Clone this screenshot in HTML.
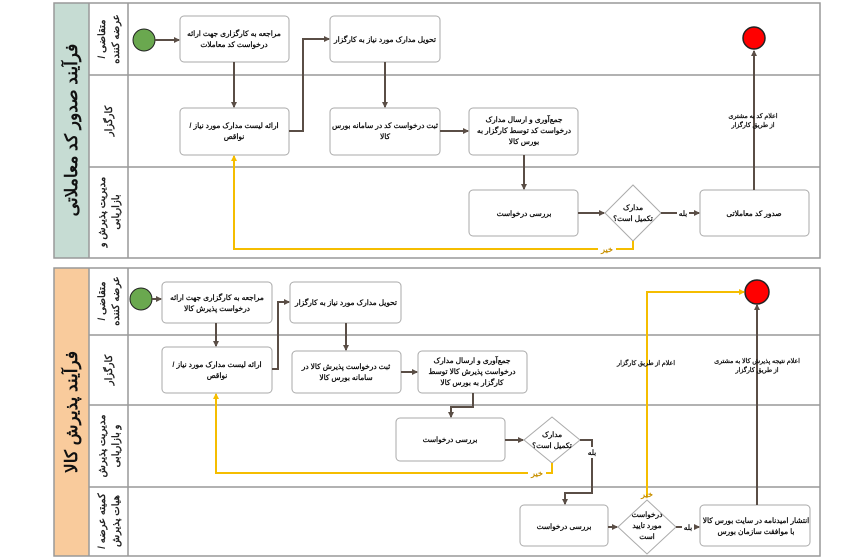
<!DOCTYPE html>
<html><head><meta charset="utf-8"><style>
html,body{margin:0;padding:0;background:#fff;}
svg{display:block;font-family:"Liberation Sans","Noto Sans CJK SC",sans-serif;}
.b{fill:#fff;stroke:#aaa;stroke-width:1;}
.t{font-size:7.4px;font-weight:bold;fill:#111;text-anchor:middle;direction:rtl;}
.s{font-size:6.3px;font-weight:bold;fill:#111;text-anchor:middle;direction:rtl;}
.l{stroke:#5a4e46;stroke-width:2;fill:none;}
.y{stroke:#f5bd00;stroke-width:2;fill:none;}
.ln{stroke:#999;stroke-width:1.5;fill:none;}
.lt{font-size:10px;font-weight:bold;fill:#222;text-anchor:middle;direction:rtl;}
.tt{font-size:17px;font-weight:bold;fill:#111;text-anchor:middle;direction:rtl;}
.kh{font-size:8px;font-weight:bold;fill:#c89000;text-anchor:middle;}
</style></head><body>
<svg width="856" height="559" viewBox="0 0 856 559" xmlns="http://www.w3.org/2000/svg">
<defs>
<marker id="a" markerWidth="6" markerHeight="6" refX="5" refY="3" orient="auto" markerUnits="userSpaceOnUse"><path d="M0,0 L6,3 L0,6z" fill="#5a4e46"/></marker>
<marker id="ay" markerWidth="6" markerHeight="6" refX="5" refY="3" orient="auto" markerUnits="userSpaceOnUse"><path d="M0,0 L6,3 L0,6z" fill="#f5bd00"/></marker>
</defs>

<rect x="54" y="3" width="35" height="255" fill="#c6dcd3"/>
<rect x="54" y="3" width="766" height="255" class="ln"/>
<line x1="89" y1="3" x2="89" y2="258" class="ln"/>
<line x1="128" y1="3" x2="128" y2="258" class="ln"/>
<line x1="89" y1="75" x2="820" y2="75" class="ln"/>
<line x1="89" y1="167" x2="820" y2="167" class="ln"/>
<text class="tt" transform="translate(77,130) rotate(-90)">فرآیند صدور کد معاملاتی</text>
<text class="lt" transform="translate(105,39) rotate(-90)">متقاضی /</text>
<text class="lt" transform="translate(119,39) rotate(-90)">عرضه کننده</text>
<text class="lt" transform="translate(112,121) rotate(-90)">کارگزار</text>
<text class="lt" transform="translate(105,212) rotate(-90)">مدیریت پذیرش و</text>
<text class="lt" transform="translate(119,212) rotate(-90)">بازاریابی</text>

<circle cx="144" cy="40" r="11" fill="#6aa84f" stroke="#222" stroke-width="1"/>
<rect class="b" x="180" y="16" width="109" height="46" rx="4"/>
<text class="t" x="234" y="36">مراجعه به کارگزاری جهت ارائه</text>
<text class="t" x="234" y="47">درخواست کد معاملات</text>
<rect class="b" x="330" y="16" width="110" height="46" rx="4"/>
<text class="t" x="385" y="42">تحویل مدارک مورد نیاز به کارگزار</text>
<rect class="b" x="180" y="108" width="109" height="47" rx="4"/>
<text class="t" x="234" y="128">ارائه لیست مدارک مورد نیاز /</text>
<text class="t" x="234" y="139">نواقص</text>
<rect class="b" x="330" y="108" width="110" height="47" rx="4"/>
<text class="t" x="385" y="128">ثبت درخواست کد در سامانه بورس</text>
<text class="t" x="385" y="139">کالا</text>
<rect class="b" x="469" y="108" width="109" height="47" rx="4"/>
<text class="t" x="524" y="122">جمع‌آوری و ارسال مدارک</text>
<text class="t" x="524" y="133">درخواست کد توسط کارگزار به</text>
<text class="t" x="524" y="144">بورس کالا</text>
<rect class="b" x="469" y="190" width="109" height="46" rx="4"/>
<text class="t" x="524" y="216">بررسی درخواست</text>
<path d="M633,185 L661,213 L633,241 L605,213z" fill="#fff" stroke="#aaa"/>
<text class="t" x="633" y="210">مدارک</text>
<text class="t" x="633" y="221">تکمیل است؟</text>
<rect class="b" x="700" y="190" width="109" height="46" rx="4"/>
<text class="t" x="754" y="216">صدور کد معاملاتی</text>
<circle cx="754" cy="38" r="11" fill="#f00" stroke="#222" stroke-width="1.5"/>

<line class="l" x1="155" y1="40" x2="179" y2="40" marker-end="url(#a)"/>
<line class="l" x1="234" y1="62" x2="234" y2="107" marker-end="url(#a)"/>
<path class="l" d="M289,131 H303 V39 H329" marker-end="url(#a)"/>
<line class="l" x1="385" y1="62" x2="385" y2="107" marker-end="url(#a)"/>
<line class="l" x1="440" y1="131" x2="468" y2="131" marker-end="url(#a)"/>
<line class="l" x1="524" y1="155" x2="524" y2="189" marker-end="url(#a)"/>
<line class="l" x1="578" y1="213" x2="604" y2="213" marker-end="url(#a)"/>
<line class="l" x1="661" y1="213" x2="699" y2="213" marker-end="url(#a)"/>
<rect x="677" y="207" width="12" height="11" fill="#fff"/>
<text class="t" x="683" y="216">بله</text>
<line class="l" x1="754" y1="190" x2="754" y2="51" marker-end="url(#a)"/>
<text class="s" x="753" y="118">اعلام کد به مشتری</text>
<text class="s" x="753" y="127">از طریق کارگزار</text>
<path class="y" d="M633,241 V249 H234 V156" marker-end="url(#ay)"/>
<rect x="598" y="243" width="18" height="11" fill="#fff"/>
<text class="kh" x="607" y="252">خیر</text>

<rect x="54" y="268" width="35" height="288" fill="#f9cb9c"/>
<rect x="54" y="268" width="766" height="288" class="ln"/>
<line x1="89" y1="268" x2="89" y2="556" class="ln"/>
<line x1="128" y1="268" x2="128" y2="556" class="ln"/>
<line x1="89" y1="335" x2="820" y2="335" class="ln"/>
<line x1="89" y1="405" x2="820" y2="405" class="ln"/>
<line x1="89" y1="487" x2="820" y2="487" class="ln"/>
<text class="tt" transform="translate(77,412) rotate(-90)">فرآیند پذیرش کالا</text>
<text class="lt" transform="translate(105,301) rotate(-90)">متقاضی /</text>
<text class="lt" transform="translate(119,301) rotate(-90)">عرضه کننده</text>
<text class="lt" transform="translate(112,370) rotate(-90)">کارگزار</text>
<text class="lt" transform="translate(105,446) rotate(-90)">مدیریت پذیرش</text>
<text class="lt" transform="translate(119,446) rotate(-90)">و بازاریابی</text>
<text class="lt" transform="translate(105,521) rotate(-90)">کمیته عرضه /</text>
<text class="lt" transform="translate(119,521) rotate(-90)">هیات پذیرش</text>

<circle cx="141" cy="299" r="11" fill="#6aa84f" stroke="#222" stroke-width="1"/>
<rect class="b" x="162" y="282" width="110" height="41" rx="4"/>
<text class="t" x="217" y="300">مراجعه به کارگزاری جهت ارائه</text>
<text class="t" x="217" y="311">درخواست پذیرش کالا</text>
<rect class="b" x="290" y="282" width="111" height="41" rx="4"/>
<text class="t" x="346" y="305">تحویل مدارک مورد نیاز به کارگزار</text>
<rect class="b" x="162" y="347" width="110" height="46" rx="4"/>
<text class="t" x="217" y="367">ارائه لیست مدارک مورد نیاز /</text>
<text class="t" x="217" y="378">نواقص</text>
<rect class="b" x="292" y="351" width="109" height="42" rx="4"/>
<text class="t" x="346" y="369">ثبت درخواست پذیرش کالا در</text>
<text class="t" x="346" y="380">سامانه بورس کالا</text>
<rect class="b" x="418" y="351" width="109" height="42" rx="4"/>
<text class="t" x="472" y="363">جمع‌آوری و ارسال مدارک</text>
<text class="t" x="472" y="374">درخواست پذیرش کالا توسط</text>
<text class="t" x="472" y="385">کارگزار به بورس کالا</text>
<rect class="b" x="396" y="418" width="109" height="43" rx="4"/>
<text class="t" x="450" y="442">بررسی درخواست</text>
<path d="M552,417 L580,440 L552,463 L524,440z" fill="#fff" stroke="#aaa"/>
<text class="t" x="552" y="437">مدارک</text>
<text class="t" x="552" y="448">تکمیل است؟</text>
<rect class="b" x="520" y="505" width="88" height="41" rx="4"/>
<text class="t" x="564" y="529">بررسی درخواست</text>
<path d="M647,500 L676,527 L647,554 L618,527z" fill="#fff" stroke="#aaa"/>
<text class="t" x="647" y="517">درخواست</text>
<text class="t" x="647" y="528">مورد تایید</text>
<text class="t" x="647" y="539">است</text>
<rect class="b" x="700" y="505" width="110" height="41" rx="4"/>
<text class="t" x="756" y="523">انتشار امیدنامه در سایت بورس کالا</text>
<text class="t" x="756" y="534">با موافقت سازمان بورس</text>
<circle cx="757" cy="292" r="12" fill="#f00" stroke="#222" stroke-width="1.5"/>

<line class="l" x1="152" y1="299" x2="161" y2="299" marker-end="url(#a)"/>
<line class="l" x1="216" y1="323" x2="216" y2="346" marker-end="url(#a)"/>
<path class="l" d="M272,369 H278 V302 H289" marker-end="url(#a)"/>
<line class="l" x1="346" y1="323" x2="346" y2="350" marker-end="url(#a)"/>
<line class="l" x1="401" y1="372" x2="417" y2="372" marker-end="url(#a)"/>
<path class="l" d="M473,393 V407 H451 V417" marker-end="url(#a)"/>
<line class="l" x1="505" y1="440" x2="523" y2="440" marker-end="url(#a)"/>
<path class="l" d="M580,440 H592 V493 H565 V504" marker-end="url(#a)"/>
<rect x="585" y="447" width="14" height="11" fill="#fff"/>
<text class="t" x="592" y="455">بله</text>
<line class="l" x1="608" y1="527" x2="617" y2="527" marker-end="url(#a)"/>
<line class="l" x1="676" y1="527" x2="699" y2="527" marker-end="url(#a)"/>
<rect x="682" y="521" width="12" height="11" fill="#fff"/>
<text class="t" x="688" y="530">بله</text>
<line class="l" x1="757" y1="505" x2="757" y2="305" marker-end="url(#a)"/>
<text class="s" x="757" y="363">اعلام نتیجه پذیرش کالا به مشتری</text>
<text class="s" x="757" y="372">از طریق کارگزار</text>
<path class="y" d="M552,463 V473 H216 V394" marker-end="url(#ay)"/>
<rect x="528" y="467" width="18" height="11" fill="#fff"/>
<text class="kh" x="537" y="476">خیر</text>
<path class="y" d="M647,497 V292 H744" marker-end="url(#ay)"/>
<text class="kh" x="647" y="497">خیر</text>
<text class="s" x="646" y="365">اعلام از طریق کارگزار</text>
</svg>
</body></html>
